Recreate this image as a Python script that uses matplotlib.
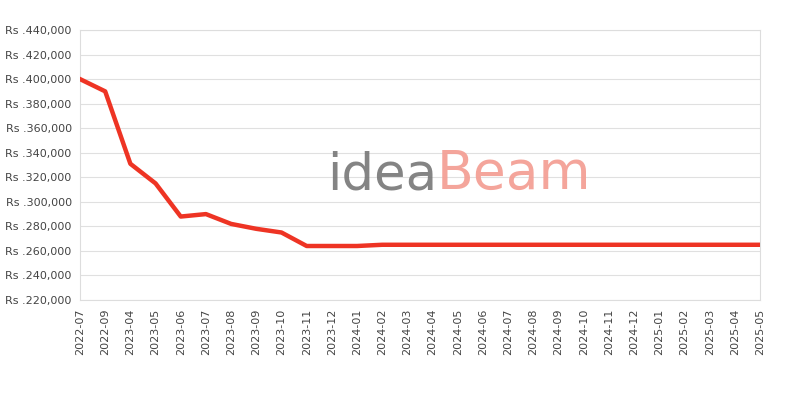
import matplotlib
matplotlib.use("Agg")
import matplotlib.pyplot as plt
from matplotlib.ticker import FuncFormatter

# price history (Rs)
months = ["2022-07", "2022-09", "2023-04", "2023-05", "2023-06", "2023-07",
          "2023-08", "2023-09", "2023-10", "2023-11", "2023-12", "2024-01",
          "2024-02", "2024-03", "2024-04", "2024-05", "2024-06", "2024-07",
          "2024-08", "2024-09", "2024-10", "2024-11", "2024-12", "2025-01",
          "2025-02", "2025-03", "2025-04", "2025-05"]
prices = [400000, 390000, 331000, 315000, 288000, 290000,
          282000, 278000, 275000, 264000, 264000, 264000,
          265000, 265000, 265000, 265000, 265000, 265000,
          265000, 265000, 265000, 265000, 265000, 265000,
          265000, 265000, 265000, 265000]
y_ticks = list(range(220000, 440001, 20000))

fig = plt.figure(figsize=(8, 4), dpi=100)
ax = fig.add_axes([0.1, 0.25, 0.85, 0.675])

x = list(range(len(months)))
ax.plot(x, prices, color="#ee3424", linewidth=3.2, solid_joinstyle="round", zorder=3)

ax.set_xlim(0, len(months) - 1)
ax.set_ylim(220000, 440000)
ax.set_yticks(y_ticks)
ax.yaxis.set_major_formatter(FuncFormatter(lambda v, p: "Rs .{:,.0f}".format(v)))
ax.set_xticks(x)
ax.set_xticklabels(months, rotation=90)

ax.grid(axis="y", color="#e0e0e0", linewidth=0.8)
ax.set_axisbelow(True)
for s in ax.spines.values():
    s.set_color("#dddddd")
    s.set_linewidth(0.8)
ax.tick_params(length=0, labelsize=8, labelcolor="#444444", pad=6)

# watermark
fig.text(0.546, 0.527, "idea", fontsize=37, color="#777777", alpha=0.9,
         ha="right", va="baseline", family="DejaVu Sans")
fig.text(0.546, 0.527, "Beam", fontsize=38.5, color="#f4a096", alpha=0.95,
         ha="left", va="baseline", family="DejaVu Sans")

fig.savefig("out.png", dpi=100)
